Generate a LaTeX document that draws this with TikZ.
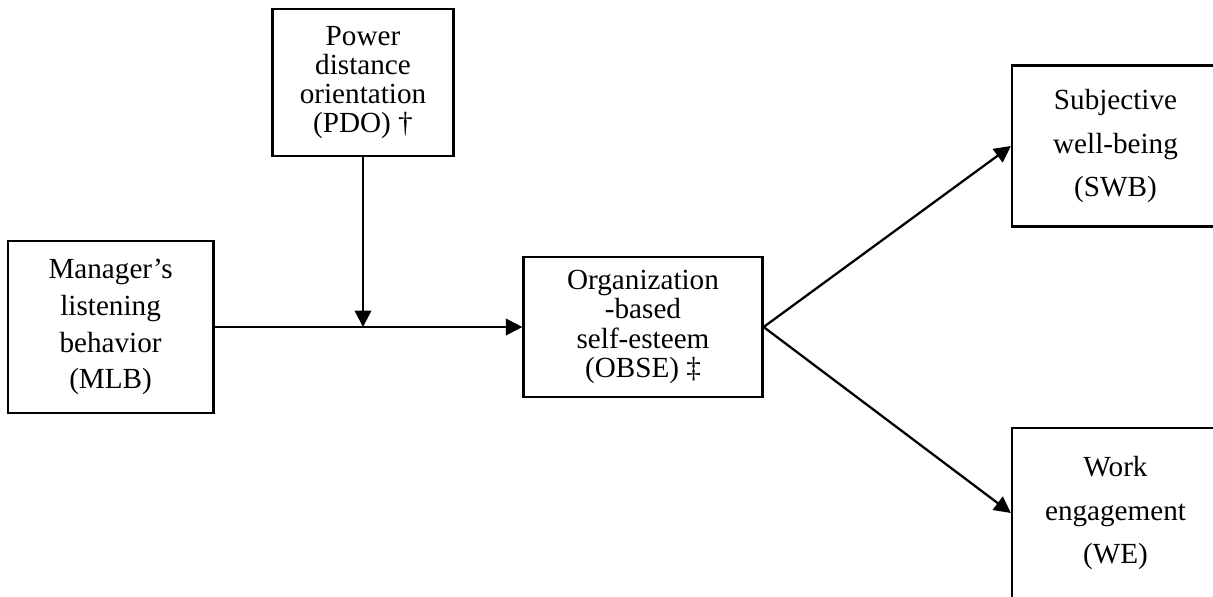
\documentclass[tikz,border=0pt]{standalone}
\usepackage{fontspec}
\setmainfont{Liberation Serif}
\usetikzlibrary{arrows.meta}

\begin{document}
\begin{tikzpicture}[
    x=0.02cm, y=-0.02cm,
    box/.style={draw, line width=1.3pt, inner sep=0pt, align=center,
                font=\fontsize{16.6}{#1}\selectfont},
    box/.default=16.6,
    every edge/.append style={line width=1.3pt},
    >={Triangle[length=3.3mm, width=3.3mm]}
]
   \useasboundingbox (0,0) rectangle (1213,596);

   % Boxes
   \node[box, minimum width=3.62cm, minimum height=2.934cm] (PDO) at (363,82.5)
        {Power\\distance\\orientation\\(PDO) †};
   \node[box=21, minimum width=4.116cm, minimum height=3.44cm] (MLB) at (110.6,327)
        {Manager’s\\listening\\behavior\\(MLB)};
   \node[box, minimum width=4.78cm, minimum height=2.8cm] (OBSE) at (643,327)
        {Organization\\-based\\self-esteem\\(OBSE) ‡};
   \node[box=24.9, minimum width=4.14cm, minimum height=3.22cm] (SWB) at (1115.5,146)
        {Subjective\\well-being\\(SWB)};
   \node[box=24.9, minimum width=4.14cm, minimum height=3.4cm] (WE) at (1115.5,513)
        {Work\\engagement\\(WE)};

   % PDO moderates the MLB -> OBSE path
   \coordinate (mod) at (PDO |- MLB);

   \path[->]
   (MLB) edge (OBSE)
   (PDO) edge (mod)
   (OBSE.east) edge (SWB.west)
               edge (WE.west);
\end{tikzpicture}
\end{document}
